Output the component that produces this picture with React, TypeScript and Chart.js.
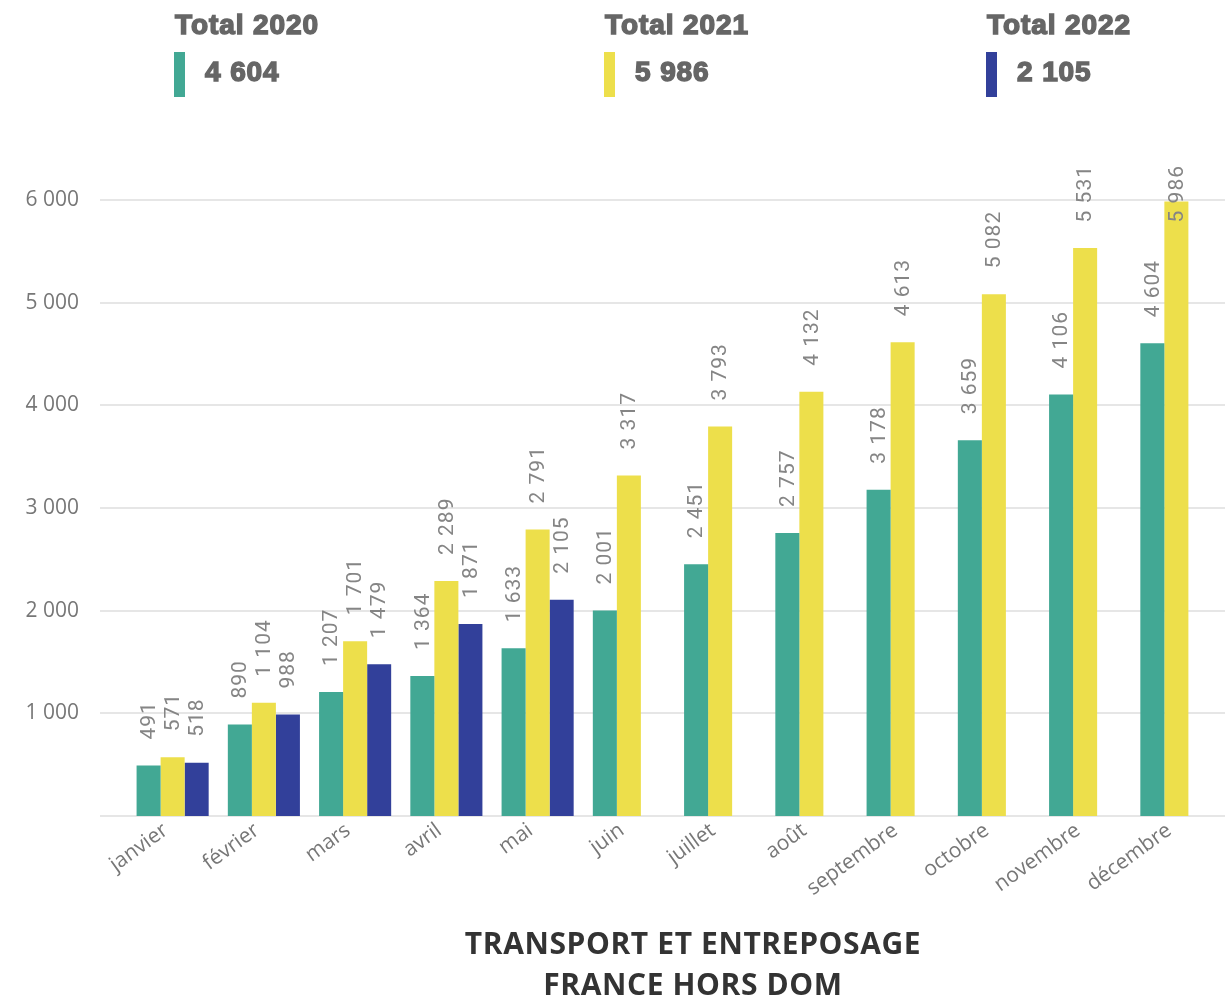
import React, { useEffect, useRef } from "react";
import { Chart, registerables } from "chart.js";

Chart.register(...registerables);

const months = ["janvier", "février", "mars", "avril", "mai", "juin", "juillet", "août", "septembre", "octobre", "novembre", "décembre"];
const values2020 = [491, 890, 1207, 1364, 1633, 2001, 2451, 2757, 3178, 3659, 4106, 4604];
const values2021 = [571, 1104, 1701, 2289, 2791, 3317, 3793, 4132, 4613, 5082, 5531, 5986];
const values2022 = [518, 988, 1479, 1871, 2105, null, null, null, null, null, null, null];
const seriesNames = ["Total 2020", "Total 2021", "Total 2022"];
const seriesTotals = ["4 604", "5 986", "2 105"];
const seriesColors = ["#42A894", "#EDDF4B", "#32409A"];
const yTicks = [0, 1000, 2000, 3000, 4000, 5000, 6000];
const titleLines = ["TRANSPORT ET ENTREPOSAGE", "FRANCE HORS DOM"];

const fmt = (n: number) => String(Math.round(n)).replace(/\B(?=(\d{3})+(?!\d))/g, " ");

const gridPlugin = {
  id: "customGrid",
  beforeDatasetsDraw(chart: any) {
    const y = chart.scales.y;
    const ctx = chart.ctx;
    ctx.save();
    ctx.strokeStyle = "#e6e6e6";
    ctx.lineWidth = 2;
    yTicks.forEach((v) => {
      const py = Math.round(y.getPixelForValue(v));
      ctx.beginPath();
      ctx.moveTo(100, py);
      ctx.lineTo(1225, py);
      ctx.stroke();
    });
    ctx.restore();
  },
};

const labelPlugin = {
  id: "barLabels",
  afterDatasetsDraw(chart: any) {
    const ctx = chart.ctx;
    const top = chart.chartArea.top;
    ctx.save();
    ctx.font = "21px Roboto";
    (ctx as any).letterSpacing = "1px";
    ctx.fillStyle = "#858585";
    ctx.textAlign = "left";
    ctx.textBaseline = "middle";
    chart.data.datasets.forEach((ds: any, di: number) => {
      const meta = chart.getDatasetMeta(di);
      meta.data.forEach((bar: any, i: number) => {
        const v = ds.data[i];
        if (v === null || v === undefined) return;
        const text = fmt(v);
        const w = ctx.measureText(text).width;
        let start = bar.y - 26;
        if (start - w < top + 2) start = top + 2 + w;
        ctx.save();
        ctx.translate(bar.x + 1, start);
        ctx.rotate(-Math.PI / 2);
        ctx.fillText(text, 0, 0);
        ctx.restore();
      });
    });
    ctx.restore();
  },
};

function ChartCanvas() {
  const ref = useRef<HTMLCanvasElement | null>(null);
  useEffect(() => {
    if (!ref.current) return;
    const chart = new Chart(ref.current, {
      type: "bar",
      data: {
        labels: months,
        datasets: [values2020, values2021, values2022].map((d, i) => ({
          label: seriesNames[i],
          data: d,
          backgroundColor: seriesColors[i],
          borderWidth: 0,
          categoryPercentage: 0.79,
          barPercentage: 1,
        })),
      },
      options: {
        animation: false,
        responsive: false,
        maintainAspectRatio: false,
        layout: { padding: { top: 163, right: 3, left: 0, bottom: 0 } },
        plugins: { legend: { display: false }, tooltip: { enabled: false } },
        scales: {
          x: {
            grid: { display: false, drawTicks: false },
            border: { display: false },
            ticks: {
              color: "#777777",
              font: { family: "'Open Sans'", size: 21 },
              minRotation: 36,
              maxRotation: 36,
              autoSkip: false,
              padding: 2,
              labelOffset: -7,
            },
            afterFit(scale: any) {
              scale.height = 181;
              scale.paddingLeft = 0;
              scale.paddingRight = 0;
            },
          },
          y: {
            min: 0,
            max: 6360,
            grid: { display: false, drawTicks: false },
            border: { display: false },
            afterBuildTicks(scale: any) {
              scale.ticks = yTicks.map((v) => ({ value: v }));
            },
            ticks: {
              color: "#777777",
              font: { family: "'Open Sans'", size: 21 },
              padding: 48,
              callback: (v: any) => (Number(v) === 0 ? "" : fmt(Number(v))),
            },
            afterFit(scale: any) {
              scale.width = 127;
              scale.paddingTop = 0;
              scale.paddingBottom = 0;
            },
          },
        },
      },
      plugins: [gridPlugin, labelPlugin],
    });
    return () => chart.destroy();
  }, []);
  return <canvas ref={ref} width={1225} height={997} style={{ position: "absolute", left: 0, top: 0, width: 1225, height: 997 }} />;
}

const headStyle: React.CSSProperties = {
  position: "absolute",
  whiteSpace: "nowrap",
  font: "bold 28px 'Liberation Sans'",
  color: "#666666",
  WebkitTextStroke: "1.5px #666666",
  letterSpacing: "0.9px",
  lineHeight: "32px",
};

export default function App() {
  const legendX = [174, 604, 986];
  return (
    <div style={{ position: "absolute", left: 0, top: 0, width: 1225, height: 997, background: "#fff", overflow: "hidden" }}>
      <ChartCanvas />
      {seriesNames.map((name, i) => (
        <div key={name} style={{ position: "absolute", left: legendX[i], top: 0 }}>
          <div style={{ ...headStyle, left: 1, top: 9 }}>{name}</div>
          <div style={{ position: "absolute", left: 0, top: 52, width: 11, height: 45, background: seriesColors[i] }} />
          <div style={{ ...headStyle, left: 31, top: 56 }}>{seriesTotals[i]}</div>
        </div>
      ))}
      <div
        style={{
          position: "absolute",
          left: 693 - 400,
          width: 800,
          top: 922,
          textAlign: "center",
          font: "bold 30px 'Open Sans'",
          letterSpacing: "0.6px",
          color: "#333333",
          lineHeight: "41px",
        }}
      >
        {titleLines.map((l) => (
          <div key={l}>{l}</div>
        ))}
      </div>
    </div>
  );
}
